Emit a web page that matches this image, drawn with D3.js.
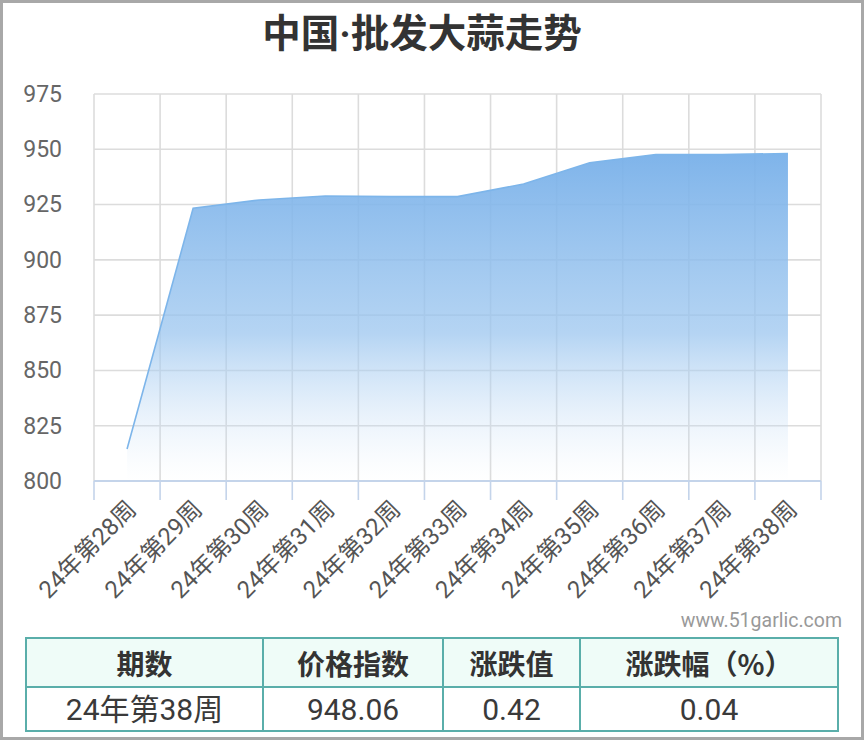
<!DOCTYPE html>
<html><head><meta charset="utf-8">
<script src="https://cdn.jsdelivr.net/npm/d3@7/dist/d3.min.js"></script>
<style>
html,body{margin:0;padding:0;background:#fff;}
svg{display:block;}
</style></head>
<body>
<svg id="chart" width="864" height="740"></svg>
<script>
const titleParts = ["中国", "·", "批发大蒜走势"];
const weeks = ["24年第28周","24年第29周","24年第30周","24年第31周","24年第32周","24年第33周","24年第34周","24年第35周","24年第36周","24年第37周","24年第38周"];
const values = [814.5, 923.3, 927.1, 928.9, 928.6, 928.6, 934.3, 943.9, 947.6, 947.64, 948.06];
const yTicks = [800, 825, 850, 875, 900, 925, 950, 975];
const tableHeaders = ["期数", "价格指数", "涨跌值", "涨跌幅（%）"];
const tableRow = ["24年第38周", "948.06", "0.42", "0.04"];
const watermark = "www.51garlic.com";

(function(){
const svg = d3.select("#chart");
const W = 864, H = 740;
const pL = 94, pR = 821, pT = 94, pB = 481;
const font = "Roboto, 'Noto Sans CJK SC', sans-serif";
const cjk = "'Noto Sans CJK SC', Roboto, sans-serif";

const x = d3.scaleBand().domain(weeks).range([pL, pR]).padding(0);
const y = d3.scaleLinear().domain([800, 975]).range([pB, pT]);

// outer frame
svg.append("rect").attr("x",1.5).attr("y",1.5).attr("width",W-3).attr("height",H-3)
  .attr("fill","#fff").attr("stroke","#a8a8a8").attr("stroke-width",3);

// title
const t = svg.append("text").attr("x", 422).attr("y", 47).attr("text-anchor","middle")
  .attr("font-family", cjk).attr("font-weight","bold").attr("font-size", 38.5)
  .attr("fill","#333");
t.append("tspan").text(titleParts[0]);
t.append("tspan").attr("font-family","Roboto, sans-serif").text(titleParts[1]);
t.append("tspan").text(titleParts[2]);

// horizontal grid
svg.append("g").selectAll("line").data(yTicks.filter(d=>d!==800)).join("line")
  .attr("x1", pL).attr("x2", pR).attr("y1", d=>y(d)).attr("y2", d=>y(d))
  .attr("stroke","#dcdcdc").attr("stroke-width",1.6);

// vertical grid at band boundaries
const bounds = weeks.map(w=>x(w)).concat([pR]);
svg.append("g").selectAll("line").data(bounds).join("line")
  .attr("x1", d=>d).attr("x2", d=>d).attr("y1", pT).attr("y2", pB)
  .attr("stroke","#dcdcdc").attr("stroke-width",1.6);

// gradient area
const defs = svg.append("defs");
const grad = defs.append("linearGradient").attr("id","ag")
  .attr("gradientUnits","userSpaceOnUse")
  .attr("x1",0).attr("x2",0).attr("y1", y(d3.max(values))).attr("y2", pB);
grad.append("stop").attr("offset","0%").attr("stop-color","#78b0e9").attr("stop-opacity",0.95);
grad.append("stop").attr("offset","55%").attr("stop-color","#9cc6ef").attr("stop-opacity",0.75);
grad.append("stop").attr("offset","100%").attr("stop-color","#d6e7f8").attr("stop-opacity",0.0);

const cx = d => x(d) + x.bandwidth()/2;
const pts = weeks.map((w,i)=>[cx(w), values[i]]);
const area = d3.area().x(d=>d[0]).y0(pB).y1(d=>y(d[1]));
svg.append("path").datum(pts).attr("d", area).attr("fill","url(#ag)");
const line = d3.line().x(d=>d[0]).y(d=>y(d[1]));
svg.append("path").datum(pts).attr("d", line).attr("fill","none")
  .attr("stroke","#7db5ea").attr("stroke-width",1.6);

// x axis line and ticks
const xAxis = svg.append("g").attr("transform", `translate(0,${pB})`)
  .call(d3.axisBottom(x).tickSize(0).tickFormat(""));
xAxis.select(".domain").attr("stroke","#c4d4ea").attr("stroke-width",2).attr("d", `M${pL},0H${pR}`);
xAxis.append("g").selectAll("line").data(bounds).join("line")
  .attr("x1", d=>d).attr("x2", d=>d).attr("y1", 0).attr("y2", 19)
  .attr("stroke","#c4d4ea").attr("stroke-width",1.6);

// x labels
svg.append("g").selectAll("text").data(weeks).join("text")
  .attr("transform", d=>`translate(${cx(d)+5},${505}) rotate(-45)`)
  .attr("text-anchor","end").attr("dominant-baseline","central")
  .attr("font-family", font).attr("font-size", 24).attr("fill","#555")
  .text(d=>d);

// y axis labels
const yAxis = svg.append("g").attr("transform", `translate(${pL},0)`)
  .call(d3.axisLeft(y).tickValues(yTicks).tickSize(0).tickPadding(32).tickFormat(d3.format("d")));
yAxis.select(".domain").remove();
yAxis.selectAll("text").attr("font-family", font).attr("font-size", 23).attr("fill","#666");

// watermark
svg.append("text").attr("x", 842).attr("y", 627).attr("text-anchor","end")
  .attr("font-family", font).attr("font-size", 19.5).attr("fill","#999").text(watermark);

// table
const colX = [26, 263, 443, 580, 838];
const rowY = [638, 687, 731];
const tbl = svg.append("g");
tbl.append("rect").attr("x", colX[0]).attr("y", rowY[0]).attr("width", colX[4]-colX[0]).attr("height", rowY[1]-rowY[0])
  .attr("fill","#effcf8");
tbl.append("rect").attr("x", colX[0]).attr("y", rowY[0]).attr("width", colX[4]-colX[0]).attr("height", rowY[2]-rowY[0])
  .attr("fill","none").attr("stroke","#5aaeaa").attr("stroke-width",2);
tbl.append("line").attr("x1", colX[0]).attr("x2", colX[4]).attr("y1", rowY[1]).attr("y2", rowY[1])
  .attr("stroke","#5aaeaa").attr("stroke-width",2);
tbl.selectAll(".vd").data(colX.slice(1,4)).join("line").attr("class","vd")
  .attr("x1", d=>d).attr("x2", d=>d).attr("y1", rowY[0]).attr("y2", rowY[2])
  .attr("stroke","#5aaeaa").attr("stroke-width",2);
tbl.selectAll(".th").data(tableHeaders).join("text").attr("class","th")
  .attr("x", (d,i)=>(colX[i]+colX[i+1])/2).attr("y", (rowY[0]+rowY[1])/2)
  .attr("text-anchor","middle").attr("dominant-baseline","central")
  .attr("font-family", cjk).attr("font-weight","bold").attr("font-size", 28).attr("fill","#333")
  .text(d=>d);
tbl.selectAll(".td").data(tableRow).join("text").attr("class","td")
  .attr("x", (d,i)=>(colX[i]+colX[i+1])/2).attr("y", (rowY[1]+rowY[2])/2)
  .attr("text-anchor","middle").attr("dominant-baseline","central")
  .attr("font-family", font).attr("font-size", 30).attr("fill","#3a3a3a")
  .text(d=>d);
})();
</script>
</body></html>
